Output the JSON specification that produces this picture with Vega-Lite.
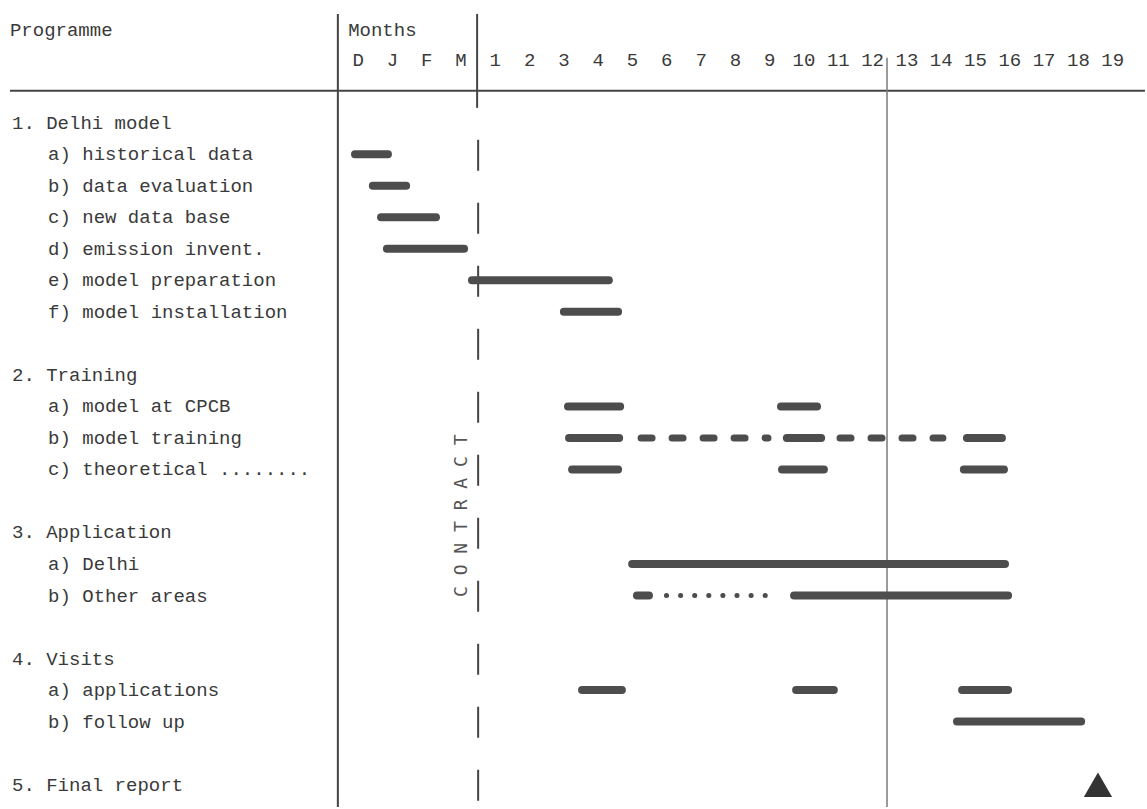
{
  "$schema": "https://vega.github.io/schema/vega-lite/v6.json",
  "width": 1147,
  "height": 809,
  "autosize": {"type": "fit", "contains": "padding"},
  "padding": 0,
  "background": "white",
  "config": {"view": {"stroke": null}},
  "datasets": {
    "bars": [
      {"task": "a) historical data", "row": 1, "start": -3.09, "end": -2.13, "kind": "solid"},
      {"task": "b) data evaluation", "row": 2, "start": -2.57, "end": -1.60, "kind": "solid"},
      {"task": "c) new data base", "row": 3, "start": -2.33, "end": -0.73, "kind": "solid"},
      {"task": "d) emission invent.", "row": 4, "start": -2.16, "end": 0.09, "kind": "solid"},
      {"task": "e) model preparation", "row": 5, "start": 0.32, "end": 4.31, "kind": "solid"},
      {"task": "f) model installation", "row": 6, "start": 3.00, "end": 4.58, "kind": "solid"},
      {"task": "a) model at CPCB", "row": 9, "start": 3.12, "end": 4.64, "kind": "solid"},
      {"task": "a) model at CPCB", "row": 9, "start": 9.33, "end": 10.38, "kind": "solid"},
      {"task": "b) model training", "row": 10, "start": 3.15, "end": 4.61, "kind": "solid"},
      {"task": "b) model training", "row": 10, "start": 5.25, "end": 8.95, "kind": "dashed"},
      {"task": "b) model training", "row": 10, "start": 9.50, "end": 10.50, "kind": "solid"},
      {"task": "b) model training", "row": 10, "start": 11.05, "end": 14.05, "kind": "dashed"},
      {"task": "b) model training", "row": 10, "start": 14.75, "end": 15.77, "kind": "solid"},
      {"task": "c) theoretical", "row": 11, "start": 3.24, "end": 4.58, "kind": "solid"},
      {"task": "c) theoretical", "row": 11, "start": 9.36, "end": 10.58, "kind": "solid"},
      {"task": "c) theoretical", "row": 11, "start": 14.66, "end": 15.83, "kind": "solid"},
      {"task": "a) Delhi", "row": 14, "start": 4.99, "end": 15.86, "kind": "solid"},
      {"task": "b) Other areas", "row": 15, "start": 5.13, "end": 5.48, "kind": "solid"},
      {"task": "b) Other areas", "row": 15, "start": 5.99, "end": 9.24, "kind": "dotted"},
      {"task": "b) Other areas", "row": 15, "start": 9.71, "end": 15.95, "kind": "solid"},
      {"task": "a) applications", "row": 18, "start": 3.53, "end": 4.69, "kind": "solid"},
      {"task": "a) applications", "row": 18, "start": 9.77, "end": 10.87, "kind": "solid"},
      {"task": "a) applications", "row": 18, "start": 14.61, "end": 15.95, "kind": "solid"},
      {"task": "b) follow up", "row": 19, "start": 14.46, "end": 18.08, "kind": "solid"}
    ],
    "labels": [
      {"label": "1. Delhi model", "row": 0, "level": 1},
      {"label": "a) historical data", "row": 1, "level": 2},
      {"label": "b) data evaluation", "row": 2, "level": 2},
      {"label": "c) new data base", "row": 3, "level": 2},
      {"label": "d) emission invent.", "row": 4, "level": 2},
      {"label": "e) model preparation", "row": 5, "level": 2},
      {"label": "f) model installation", "row": 6, "level": 2},
      {"label": "2. Training", "row": 8, "level": 1},
      {"label": "a) model at CPCB", "row": 9, "level": 2},
      {"label": "b) model training", "row": 10, "level": 2},
      {"label": "c) theoretical ........", "row": 11, "level": 2},
      {"label": "3. Application", "row": 13, "level": 1},
      {"label": "a) Delhi", "row": 14, "level": 2},
      {"label": "b) Other areas", "row": 15, "level": 2},
      {"label": "4. Visits", "row": 17, "level": 1},
      {"label": "a) applications", "row": 18, "level": 2},
      {"label": "b) follow up", "row": 19, "level": 2},
      {"label": "5. Final report", "row": 21, "level": 1}
    ],
    "months": [
      {"m": "D", "pos": -3}, {"m": "J", "pos": -2}, {"m": "F", "pos": -1}, {"m": "M", "pos": 0},
      {"m": "1", "pos": 1}, {"m": "2", "pos": 2}, {"m": "3", "pos": 3}, {"m": "4", "pos": 4},
      {"m": "5", "pos": 5}, {"m": "6", "pos": 6}, {"m": "7", "pos": 7}, {"m": "8", "pos": 8},
      {"m": "9", "pos": 9}, {"m": "10", "pos": 10}, {"m": "11", "pos": 11}, {"m": "12", "pos": 12},
      {"m": "13", "pos": 13}, {"m": "14", "pos": 14}, {"m": "15", "pos": 15}, {"m": "16", "pos": 16},
      {"m": "17", "pos": 17}, {"m": "18", "pos": 18}, {"m": "19", "pos": 19}
    ],
    "milestones": [
      {"task": "5. Final report", "row": 21, "month": 18.57}
    ],
    "one": [{"k": 1}]
  },
  "layer": [
    {
      "data": {"name": "one"},
      "mark": {"type": "rule", "color": "#444444", "strokeWidth": 2},
      "encoding": {
        "x": {"datum": -13.15, "type": "quantitative", "scale": {"domain": [-13.44, 20.0], "nice": false, "zero": false}, "axis": null},
        "x2": {"datum": 19.94},
        "y": {"datum": -1.01, "type": "quantitative", "scale": {"domain": [-3.892, 21.709], "nice": false, "zero": false, "reverse": true}, "axis": null}
      }
    },
    {
      "data": {"name": "one"},
      "mark": {"type": "rule", "color": "#444444", "strokeWidth": 2},
      "encoding": {
        "x": {"datum": -3.59, "type": "quantitative"},
        "y": {"datum": -3.45, "type": "quantitative"},
        "y2": {"datum": 21.71}
      }
    },
    {
      "data": {"name": "one"},
      "mark": {"type": "rule", "color": "#444444", "strokeWidth": 2},
      "encoding": {
        "x": {"datum": 0.47, "type": "quantitative"},
        "y": {"datum": -3.45, "type": "quantitative"},
        "y2": {"datum": -0.47}
      }
    },
    {
      "data": {"name": "one"},
      "mark": {"type": "rule", "color": "#444444", "strokeWidth": 2, "strokeDash": [31, 32]},
      "encoding": {
        "x": {"datum": 0.5, "type": "quantitative"},
        "y": {"datum": 0.54, "type": "quantitative"},
        "y2": {"datum": 21.71}
      }
    },
    {
      "data": {"name": "one"},
      "mark": {"type": "rule", "color": "#7a7a7a", "strokeWidth": 1.5},
      "encoding": {
        "x": {"datum": 12.42, "type": "quantitative"},
        "y": {"datum": -2.06, "type": "quantitative"},
        "y2": {"datum": 21.71}
      }
    },
    {
      "data": {"name": "bars"},
      "transform": [{"filter": "datum.kind === 'solid'"}],
      "mark": {"type": "rule", "color": "#4d4d4d", "strokeWidth": 8, "strokeCap": "round"},
      "encoding": {
        "x": {"field": "start", "type": "quantitative"},
        "x2": {"field": "end"},
        "y": {"field": "row", "type": "quantitative"}
      }
    },
    {
      "data": {"name": "bars"},
      "transform": [{"filter": "datum.kind === 'dashed'"}],
      "mark": {"type": "rule", "color": "#4d4d4d", "strokeWidth": 7, "strokeCap": "round", "strokeDash": [11, 20]},
      "encoding": {
        "x": {"field": "start", "type": "quantitative"},
        "x2": {"field": "end"},
        "y": {"field": "row", "type": "quantitative"}
      }
    },
    {
      "data": {"name": "bars"},
      "transform": [{"filter": "datum.kind === 'dotted'"}],
      "mark": {"type": "rule", "color": "#4d4d4d", "strokeWidth": 5, "strokeCap": "round", "strokeDash": [0.1, 14]},
      "encoding": {
        "x": {"field": "start", "type": "quantitative"},
        "x2": {"field": "end"},
        "y": {"field": "row", "type": "quantitative"}
      }
    },
    {
      "data": {"name": "milestones"},
      "mark": {"type": "point", "shape": "triangle-up", "filled": true, "size": 800, "color": "#333333", "opacity": 1},
      "encoding": {
        "x": {"field": "month", "type": "quantitative"},
        "y": {"field": "row", "type": "quantitative"}
      }
    },
    {
      "data": {"name": "labels"},
      "transform": [{"filter": "datum.level === 1"}],
      "mark": {"type": "text", "align": "left", "baseline": "middle", "font": "Liberation Mono", "fontSize": 19, "color": "#3a3a3a"},
      "encoding": {
        "x": {"datum": -13.09, "type": "quantitative"},
        "y": {"field": "row", "type": "quantitative"},
        "text": {"field": "label"}
      }
    },
    {
      "data": {"name": "labels"},
      "transform": [{"filter": "datum.level === 2"}],
      "mark": {"type": "text", "align": "left", "baseline": "middle", "font": "Liberation Mono", "fontSize": 19, "color": "#3a3a3a"},
      "encoding": {
        "x": {"datum": -12.04, "type": "quantitative"},
        "y": {"field": "row", "type": "quantitative"},
        "text": {"field": "label"}
      }
    },
    {
      "data": {"name": "months"},
      "mark": {"type": "text", "align": "center", "baseline": "middle", "font": "Liberation Mono", "fontSize": 19, "color": "#3a3a3a"},
      "encoding": {
        "x": {"field": "pos", "type": "quantitative"},
        "y": {"datum": -1.99, "type": "quantitative"},
        "text": {"field": "m"}
      }
    },
    {
      "data": {"name": "one"},
      "mark": {"type": "text", "text": "Programme", "align": "left", "baseline": "middle", "font": "Liberation Mono", "fontSize": 19, "color": "#3a3a3a"},
      "encoding": {
        "x": {"datum": -13.15, "type": "quantitative"},
        "y": {"datum": -2.94, "type": "quantitative"}
      }
    },
    {
      "data": {"name": "one"},
      "mark": {"type": "text", "text": "Months", "align": "left", "baseline": "middle", "font": "Liberation Mono", "fontSize": 19, "color": "#3a3a3a"},
      "encoding": {
        "x": {"datum": -3.29, "type": "quantitative"},
        "y": {"datum": -2.94, "type": "quantitative"}
      }
    },
    {
      "data": {"name": "one"},
      "mark": {"type": "text", "text": "C O N T R A C T", "angle": 270, "align": "center", "baseline": "middle", "font": "DejaVu Sans Mono", "fontSize": 18, "color": "#555555"},
      "encoding": {
        "x": {"datum": 0.03, "type": "quantitative"},
        "y": {"datum": 12.47, "type": "quantitative"}
      }
    }
  ]
}
